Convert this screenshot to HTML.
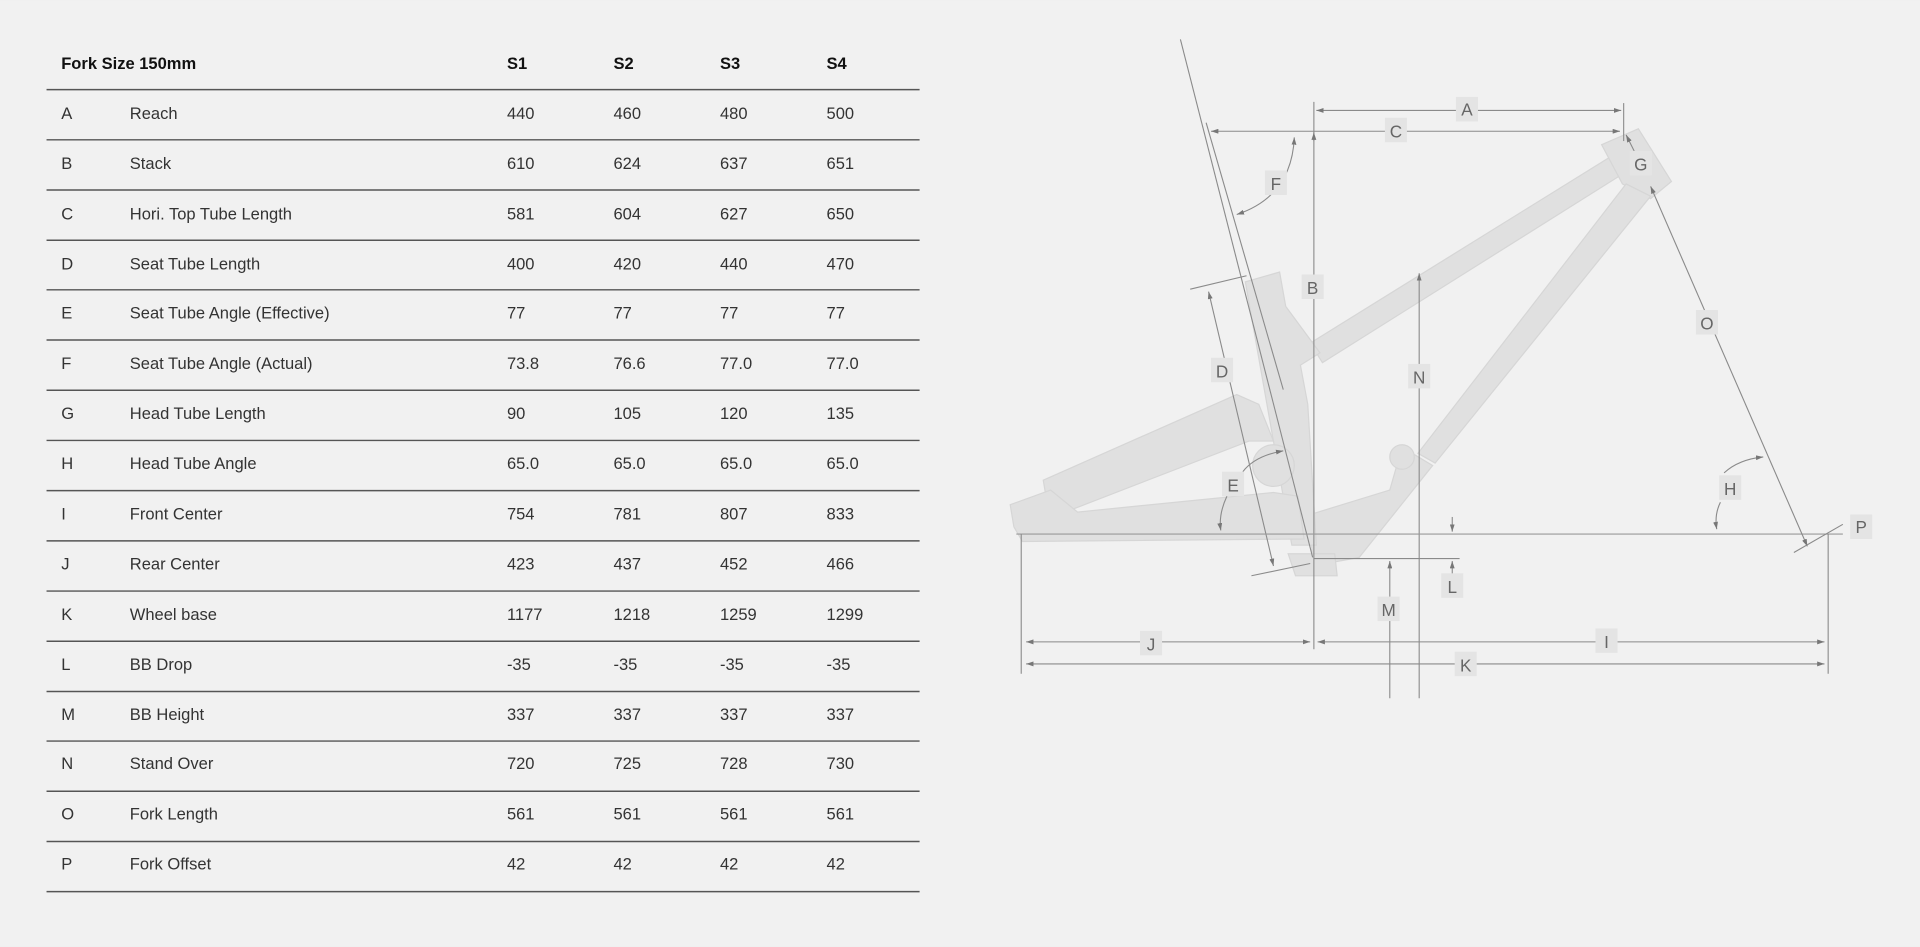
<!DOCTYPE html>
<html><head><meta charset="utf-8"><style>
html,body{margin:0;padding:0;background:#f1f1f1;}
svg{display:block}
.t{font-family:"Liberation Sans",sans-serif;font-size:13.5px;fill:#333}
.b{font-weight:bold;fill:#111}
.lb{font-family:"Liberation Sans",sans-serif;font-size:14px;fill:#666;text-anchor:middle}
.ln{stroke:#8a8a8a;stroke-width:0.9;fill:none}
.fr{fill:#e0e0e0;stroke:#d6d6d6;stroke-width:1}
</style></head><body>
<svg width="1920" height="947" viewBox="0 0 1568 773" xmlns="http://www.w3.org/2000/svg">
<defs>
<marker id="a" markerWidth="6" markerHeight="4" refX="6" refY="2" orient="auto-start-reverse" markerUnits="userSpaceOnUse"><path d="M0,0 L6,2 L0,4z" fill="#777"/></marker>
</defs>
<rect width="1568" height="773" fill="#f1f1f1"/>
<g>
<text class="t b" x="50" y="56">Fork Size 150mm</text>
<text class="t b" x="414" y="56">S1</text><text class="t b" x="501" y="56">S2</text><text class="t b" x="588" y="56">S3</text><text class="t b" x="675" y="56">S4</text>
<g stroke="#555" stroke-width="1.2">
<line x1="38" x2="751" y1="73" y2="73"/><line x1="38" x2="751" y1="114" y2="114"/><line x1="38" x2="751" y1="155" y2="155"/><line x1="38" x2="751" y1="196" y2="196"/><line x1="38" x2="751" y1="236.5" y2="236.5"/><line x1="38" x2="751" y1="277.5" y2="277.5"/><line x1="38" x2="751" y1="318.5" y2="318.5"/><line x1="38" x2="751" y1="359.5" y2="359.5"/><line x1="38" x2="751" y1="400.5" y2="400.5"/><line x1="38" x2="751" y1="441.5" y2="441.5"/><line x1="38" x2="751" y1="482.5" y2="482.5"/><line x1="38" x2="751" y1="523.5" y2="523.5"/><line x1="38" x2="751" y1="564.5" y2="564.5"/><line x1="38" x2="751" y1="605" y2="605"/><line x1="38" x2="751" y1="646" y2="646"/><line x1="38" x2="751" y1="687" y2="687"/><line x1="38" x2="751" y1="728" y2="728"/>
</g>
<g class="t">
<text x="50" y="97">A</text><text x="106" y="97">Reach</text><text x="414" y="97">440</text><text x="501" y="97">460</text><text x="588" y="97">480</text><text x="675" y="97">500</text>
<text x="50" y="138">B</text><text x="106" y="138">Stack</text><text x="414" y="138">610</text><text x="501" y="138">624</text><text x="588" y="138">637</text><text x="675" y="138">651</text>
<text x="50" y="179">C</text><text x="106" y="179">Hori. Top Tube Length</text><text x="414" y="179">581</text><text x="501" y="179">604</text><text x="588" y="179">627</text><text x="675" y="179">650</text>
<text x="50" y="220">D</text><text x="106" y="220">Seat Tube Length</text><text x="414" y="220">400</text><text x="501" y="220">420</text><text x="588" y="220">440</text><text x="675" y="220">470</text>
<text x="50" y="260">E</text><text x="106" y="260">Seat Tube Angle (Effective)</text><text x="414" y="260">77</text><text x="501" y="260">77</text><text x="588" y="260">77</text><text x="675" y="260">77</text>
<text x="50" y="301">F</text><text x="106" y="301">Seat Tube Angle (Actual)</text><text x="414" y="301">73.8</text><text x="501" y="301">76.6</text><text x="588" y="301">77.0</text><text x="675" y="301">77.0</text>
<text x="50" y="342">G</text><text x="106" y="342">Head Tube Length</text><text x="414" y="342">90</text><text x="501" y="342">105</text><text x="588" y="342">120</text><text x="675" y="342">135</text>
<text x="50" y="383">H</text><text x="106" y="383">Head Tube Angle</text><text x="414" y="383">65.0</text><text x="501" y="383">65.0</text><text x="588" y="383">65.0</text><text x="675" y="383">65.0</text>
<text x="50" y="424">I</text><text x="106" y="424">Front Center</text><text x="414" y="424">754</text><text x="501" y="424">781</text><text x="588" y="424">807</text><text x="675" y="424">833</text>
<text x="50" y="465">J</text><text x="106" y="465">Rear Center</text><text x="414" y="465">423</text><text x="501" y="465">437</text><text x="588" y="465">452</text><text x="675" y="465">466</text>
<text x="50" y="506">K</text><text x="106" y="506">Wheel base</text><text x="414" y="506">1177</text><text x="501" y="506">1218</text><text x="588" y="506">1259</text><text x="675" y="506">1299</text>
<text x="50" y="547">L</text><text x="106" y="547">BB Drop</text><text x="414" y="547">-35</text><text x="501" y="547">-35</text><text x="588" y="547">-35</text><text x="675" y="547">-35</text>
<text x="50" y="588">M</text><text x="106" y="588">BB Height</text><text x="414" y="588">337</text><text x="501" y="588">337</text><text x="588" y="588">337</text><text x="675" y="588">337</text>
<text x="50" y="628">N</text><text x="106" y="628">Stand Over</text><text x="414" y="628">720</text><text x="501" y="628">725</text><text x="588" y="628">728</text><text x="675" y="628">730</text>
<text x="50" y="669">O</text><text x="106" y="669">Fork Length</text><text x="414" y="669">561</text><text x="501" y="669">561</text><text x="588" y="669">561</text><text x="675" y="669">561</text>
<text x="50" y="710">P</text><text x="106" y="710">Fork Offset</text><text x="414" y="710">42</text><text x="501" y="710">42</text><text x="588" y="710">42</text><text x="675" y="710">42</text>
</g>
</g>
<!-- frame -->
<g class="fr">
<path d="M1070,280 L1315,128 L1325,142 L1080,296 Z"/>
<path d="M1308,118 L1338,105 L1365,148 L1348,162 L1325,150 Z"/>
<path d="M1328,150 L1348,160 L1172,378 L1158,370 Z"/>
<path d="M1145,365 L1170,380 L1110,455 L1072,462 L1070,420 L1135,400 Z"/>
<path d="M1017,230 L1045,222 L1050,250 L1078,288 L1062,298 L1068,330 L1075,445 L1055,445 Z"/>
<path d="M852,392 L1010,322 L1028,330 L1040,360 L1020,360 L870,418 L855,410 Z"/>
<path d="M825,412 L858,400 L880,418 L1040,402 L1060,405 L1065,440 L835,442 L828,430 Z"/>
<path d="M1052,452 L1090,452 L1092,470 L1058,470 Z"/>
<circle cx="1040" cy="380" r="17"/>
<circle cx="1145" cy="373" r="10"/>
</g>
<g class="ln">
<line x1="964" y1="32" x2="1072" y2="455"/>
<line x1="985" y1="100" x2="1048" y2="318"/>
<line x1="1073" y1="83" x2="1073" y2="530"/>
<line x1="1326" y1="84" x2="1326" y2="115"/>
<line x1="1075" y1="90" x2="1324" y2="90" marker-start="url(#a)" marker-end="url(#a)"/>
<line x1="989" y1="107" x2="1323" y2="107" marker-start="url(#a)" marker-end="url(#a)"/>
<line x1="1073" y1="115" x2="1073" y2="108" marker-end="url(#a)"/>
<path d="M1057,112 Q1055,160 1010,175" marker-start="url(#a)" marker-end="url(#a)"/>
<line x1="972" y1="236" x2="1018" y2="225"/>
<line x1="1022" y1="470" x2="1070" y2="460"/>
<line x1="987" y1="238" x2="1040" y2="462" marker-start="url(#a)" marker-end="url(#a)"/>
<path d="M1015,385 Q1025,372 1048,368" marker-end="url(#a)"/>
<path d="M1002,405 Q995,420 997,433" marker-end="url(#a)"/>
<line x1="1159" y1="570" x2="1159" y2="223" marker-end="url(#a)"/>
<line x1="830" y1="436" x2="1505" y2="436" stroke="#999"/>
<line x1="1073" y1="456" x2="1192" y2="456"/>
<line x1="1186" y1="422" x2="1186" y2="434" marker-end="url(#a)"/>
<line x1="1186" y1="470" x2="1186" y2="458" marker-end="url(#a)"/>
<line x1="1135" y1="570" x2="1135" y2="458" marker-end="url(#a)"/>
<line x1="834" y1="436" x2="834" y2="550"/>
<line x1="1493" y1="436" x2="1493" y2="550"/>
<line x1="838" y1="524" x2="1070" y2="524" marker-start="url(#a)" marker-end="url(#a)"/>
<line x1="1076" y1="524" x2="1490" y2="524" marker-start="url(#a)" marker-end="url(#a)"/>
<line x1="838" y1="542" x2="1490" y2="542" marker-start="url(#a)" marker-end="url(#a)"/>
<line x1="1328" y1="110" x2="1342" y2="138" marker-start="url(#a)"/>
<line x1="1348" y1="152" x2="1476" y2="446" marker-start="url(#a)" marker-end="url(#a)"/>
<path d="M1408,386 Q1420,375 1440,373" marker-end="url(#a)"/>
<path d="M1405,410 Q1400,420 1402,432" marker-end="url(#a)"/>
<line x1="1465" y1="451" x2="1505" y2="428"/>
</g>
<g>
<rect x="1189" y="79" width="18" height="20" fill="#e4e4e4"/><text class="lb" x="1198" y="94">A</text>
<rect x="1131" y="96" width="18" height="20" fill="#e4e4e4"/><text class="lb" x="1140" y="112">C</text>
<rect x="1063" y="224" width="18" height="20" fill="#e4e4e4"/><text class="lb" x="1072" y="240">B</text>
<rect x="1033" y="139" width="18" height="20" fill="#e4e4e4"/><text class="lb" x="1042" y="155">F</text>
<rect x="1331" y="123" width="18" height="20" fill="#e4e4e4"/><text class="lb" x="1340" y="139">G</text>
<rect x="989" y="292" width="18" height="20" fill="#e4e4e4"/><text class="lb" x="998" y="308">D</text>
<rect x="1150" y="297" width="18" height="20" fill="#e4e4e4"/><text class="lb" x="1159" y="313">N</text>
<rect x="1385" y="253" width="18" height="20" fill="#e4e4e4"/><text class="lb" x="1394" y="269">O</text>
<rect x="998" y="385" width="18" height="20" fill="#e4e4e4"/><text class="lb" x="1007" y="401">E</text>
<rect x="1404" y="388" width="18" height="20" fill="#e4e4e4"/><text class="lb" x="1413" y="404">H</text>
<rect x="1511" y="420" width="18" height="20" fill="#e4e4e4"/><text class="lb" x="1520" y="435">P</text>
<rect x="1177" y="468" width="18" height="20" fill="#e4e4e4"/><text class="lb" x="1186" y="484">L</text>
<rect x="1125" y="487" width="18" height="20" fill="#e4e4e4"/><text class="lb" x="1134" y="503">M</text>
<rect x="931" y="515" width="18" height="20" fill="#e4e4e4"/><text class="lb" x="940" y="531">J</text>
<rect x="1303" y="513" width="18" height="20" fill="#e4e4e4"/><text class="lb" x="1312" y="529">I</text>
<rect x="1188" y="532" width="18" height="20" fill="#e4e4e4"/><text class="lb" x="1197" y="548">K</text>
</g>
</svg>
</body></html>
